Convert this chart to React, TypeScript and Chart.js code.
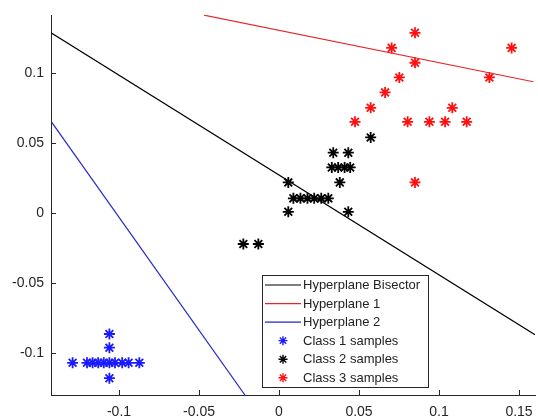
import React, { useEffect, useRef } from "react";
import { Chart, registerables } from "chart.js";

Chart.register(...registerables);

// Hyperplane lines (endpoints)
const bisectorX = [-0.1425, 0.16];
const bisectorY = [0.1288, -0.087];
const hyper1X = [-0.0469, 0.159];
const hyper1Y = [0.1414, 0.0938];
const hyper2X = [-0.142, -0.0213];
const hyper2Y = [0.0648, -0.13];

// Class 1 samples (blue)
const class1X = [-0.106, -0.106, -0.129, -0.12, -0.1165, -0.113, -0.1095, -0.106, -0.1025, -0.098, -0.094, -0.0873, -0.106];
const class1Y = [-0.0864, -0.0962, -0.107, -0.107, -0.107, -0.107, -0.107, -0.107, -0.107, -0.107, -0.107, -0.107, -0.118];

// Class 2 samples (black)
const class2X = [0.0339, 0.0433, 0.033, 0.037, 0.041, 0.0445, 0.038, 0.0058, 0.009, 0.0134, 0.0178, 0.022, 0.0264, 0.0308, 0.0058, 0.0433, -0.0223, -0.0129, 0.0573];
const class2Y = [0.0431, 0.0431, 0.0326, 0.0326, 0.0326, 0.0326, 0.0219, 0.0219, 0.0105, 0.0105, 0.0105, 0.0105, 0.0105, 0.0105, 0.0009, 0.0009, -0.0221, -0.0221, 0.054];

// Class 3 samples (red)
const class3X = [0.085, 0.0704, 0.1454, 0.085, 0.1315, 0.0752, 0.0663, 0.0573, 0.1083, 0.0475, 0.0804, 0.094, 0.1038, 0.1173, 0.085];
const class3Y = [0.1288, 0.118, 0.118, 0.1074, 0.0969, 0.0969, 0.0862, 0.0752, 0.0752, 0.0652, 0.0652, 0.0652, 0.0652, 0.0652, 0.0219];

const xTicks = [-0.1, -0.05, 0, 0.05, 0.1, 0.15];
const xTickLabels = ["-0.1", "-0.05", "0", "0.05", "0.1", "0.15"];
const yTicks = [-0.1, -0.05, 0, 0.05, 0.1];
const yTickLabels = ["-0.1", "-0.05", "0", "0.05", "0.1"];

const X_MIN = -0.1425;
const X_MAX = 0.16;
const Y_MIN = -0.13;
const Y_MAX = 0.1415;

const AXIS_COLOR = "#262626";
const FONT = "Liberation Sans, Arial, sans-serif";

const toPts = (xs: number[], ys: number[]) => xs.map((x, i) => ({ x, y: ys[i] }));

function drawStar(ctx: CanvasRenderingContext2D, cx: number, cy: number, r: number) {
  ctx.beginPath();
  for (let k = 0; k < 4; k++) {
    const a = (k * Math.PI) / 4;
    const dx = Math.cos(a) * r;
    const dy = Math.sin(a) * r;
    ctx.moveTo(cx - dx, cy - dy);
    ctx.lineTo(cx + dx, cy + dy);
  }
  ctx.stroke();
}

// Inward tick marks and tick labels, placed through the chart's own scales
const axisDecor = {
  id: "axisDecor",
  afterDraw(chart: any) {
    const ctx = chart.ctx;
    const area = chart.chartArea;
    const xs = chart.scales.x;
    const ys = chart.scales.y;
    ctx.save();
    ctx.strokeStyle = AXIS_COLOR;
    ctx.lineWidth = 1;
    ctx.beginPath();
    xTicks.forEach((v) => {
      const px = Math.round(xs.getPixelForValue(v)) + 0.5;
      ctx.moveTo(px, area.bottom);
      ctx.lineTo(px, area.bottom - 5);
    });
    yTicks.forEach((v) => {
      const py = Math.round(ys.getPixelForValue(v)) + 0.5;
      ctx.moveTo(area.left, py);
      ctx.lineTo(area.left + 5, py);
    });
    ctx.stroke();

    ctx.fillStyle = "#262626";
    ctx.font = "14px " + FONT;
    ctx.textBaseline = "middle";
    ctx.textAlign = "center";
    xTicks.forEach((v, i) => {
      ctx.fillText(xTickLabels[i], xs.getPixelForValue(v), area.bottom + 17);
    });
    ctx.textAlign = "right";
    yTicks.forEach((v, i) => {
      ctx.fillText(yTickLabels[i], area.left - 7, ys.getPixelForValue(v));
    });
    ctx.restore();
  },
};

const boxLegend = {
  id: "boxLegend",
  afterDraw(chart: any) {
    const ctx = chart.ctx;
    const left = 262.5;
    const top = 275.5;
    const w = 166;
    const h = 112;
    ctx.save();
    ctx.fillStyle = "#ffffff";
    ctx.fillRect(left, top, w, h);
    ctx.strokeStyle = AXIS_COLOR;
    ctx.lineWidth = 1;
    ctx.strokeRect(left, top, w, h);
    ctx.font = "13px " + FONT;
    ctx.textBaseline = "middle";
    ctx.textAlign = "left";
    chart.data.datasets.forEach((ds: any, i: number) => {
      const cy = 285 + i * 18.55;
      const color = ds.borderColor;
      if (ds.showLine) {
        ctx.strokeStyle = color;
        ctx.lineWidth = 1.2;
        ctx.beginPath();
        ctx.moveTo(265, cy);
        ctx.lineTo(301, cy);
        ctx.stroke();
      } else {
        ctx.strokeStyle = color;
        ctx.lineWidth = 1.4;
        drawStar(ctx, 283, cy, 4.5);
      }
      ctx.fillStyle = "#222222";
      ctx.fillText(ds.label, 303, cy + 0.5);
    });
    ctx.restore();
  },
};

export default function App() {
  const ref = useRef<HTMLCanvasElement | null>(null);

  useEffect(() => {
    if (!ref.current) return;
    const lineDs = (label: string, xs: number[], ys: number[], color: string) => ({
      type: "scatter" as const,
      label,
      data: toPts(xs, ys),
      showLine: true,
      borderColor: color,
      backgroundColor: color,
      borderWidth: 1.2,
      pointRadius: 0,
      pointHoverRadius: 0,
    });
    const ptDs = (label: string, xs: number[], ys: number[], color: string) => ({
      type: "scatter" as const,
      label,
      data: toPts(xs, ys),
      showLine: false,
      borderColor: color,
      backgroundColor: color,
      pointStyle: "star",
      pointRadius: 5.5,
      pointBorderWidth: 1.8,
      borderWidth: 1.8,
    });

    const chart = new Chart(ref.current, {
      type: "scatter",
      data: {
        datasets: [
          lineDs("Hyperplane Bisector", bisectorX, bisectorY, "#000000"),
          lineDs("Hyperplane 1", hyper1X, hyper1Y, "#e8262a"),
          lineDs("Hyperplane 2", hyper2X, hyper2Y, "#2525c8"),
          ptDs("Class 1 samples", class1X, class1Y, "#1a1aff"),
          ptDs("Class 2 samples", class2X, class2Y, "#000000"),
          ptDs("Class 3 samples", class3X, class3Y, "#ff1010"),
        ] as any,
      },
      options: {
        animation: false,
        responsive: false,
        layout: { autoPadding: false, padding: { left: 0, top: 15, right: 3, bottom: 0 } },
        plugins: {
          legend: { display: false },
          tooltip: { enabled: false },
        },
        scales: {
          x: {
            type: "linear",
            min: X_MIN,
            max: X_MAX,
            afterBuildTicks: (s: any) => {
              s.ticks = xTicks.map((v) => ({ value: v }));
            },
            afterFit: (s: any) => {
              s.height = 25;
              s.paddingLeft = 0;
              s.paddingRight = 0;
            },
            grid: { display: false, drawTicks: false },
            border: { display: true, color: AXIS_COLOR, width: 1 },
            ticks: { display: false },
          },
          y: {
            type: "linear",
            min: Y_MIN,
            max: Y_MAX,
            afterBuildTicks: (s: any) => {
              s.ticks = yTicks.map((v) => ({ value: v }));
            },
            afterFit: (s: any) => {
              s.width = 51;
              s.paddingTop = 0;
              s.paddingBottom = 0;
            },
            grid: { display: false, drawTicks: false },
            border: { display: true, color: AXIS_COLOR, width: 1 },
            ticks: { display: false },
          },
        },
      },
      plugins: [axisDecor, boxLegend],
    });
    return () => chart.destroy();
  }, []);

  return (
    <div style={{ position: "absolute", left: 0, top: 0, width: 538, height: 420, background: "#fff" }}>
      <canvas ref={ref} width={538} height={420} style={{ display: "block", width: 538, height: 420 }} />
    </div>
  );
}
